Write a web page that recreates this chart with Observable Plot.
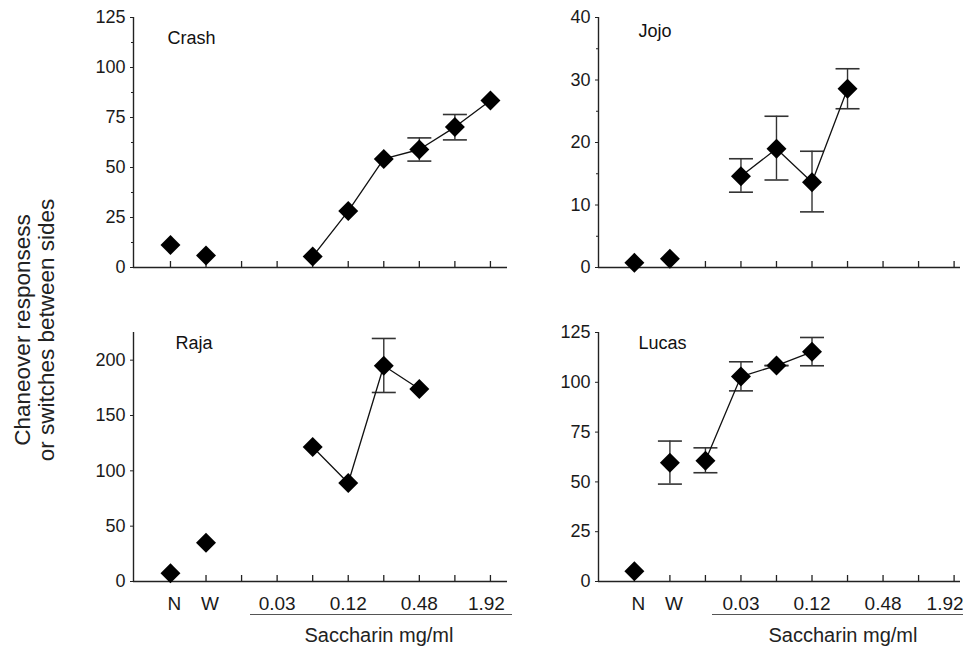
<!DOCTYPE html>
<html><head><meta charset="utf-8">
<script src="https://cdn.jsdelivr.net/npm/d3@7"></script>
<script src="https://cdn.jsdelivr.net/npm/@observablehq/plot@0.6"></script>
<style>
html,body{margin:0;padding:0;background:#fff;overflow:hidden;}
#wrap{position:relative;width:963px;height:648px;font-family:"Liberation Sans",Arial,Helvetica,sans-serif;color:#111;}
.panel{position:absolute;}
.ylab{position:absolute;left:-115px;top:306px;width:300px;height:48px;line-height:24px;font-size:22.5px;text-align:center;transform:rotate(-90deg);transform-origin:50% 50%;color:#222;white-space:nowrap;}
.xlab{position:absolute;top:625px;font-size:20px;line-height:20px;transform:translateX(-50%);white-space:nowrap;color:#222;}
.uline{position:absolute;top:614px;height:0;border-top:1.6px solid #555;}
</style></head><body><div id="wrap"></div>
<script>
// ---- data ----
const xPositions = [0,1,2,3,4,5,6,7,8,9];
const xTickLabels = ["N","W","","0.03","","0.12","","0.48","","1.92"];
const axisTitle = "Saccharin mg/ml";
const yTitle1 = "Chaneover responsess";
const yTitle2 = "or switches between sides";

const crashX = [0,1,4,5,6,7,8,9];
const crashY = [11.3,6,5.5,28.2,54.3,59,70.2,83.5];
const crashErrX = [7,8];
const crashLo = [53.2,63.8];
const crashHi = [64.8,76.5];

const jojoX = [0,1,3,4,5,6];
const jojoY = [0.75,1.4,14.6,19.0,13.65,28.6];
const jojoErrX = [3,4,5,6];
const jojoLo = [12.05,14.0,8.9,25.4];
const jojoHi = [17.4,24.2,18.6,31.8];

const rajaX = [0,1,4,5,6,7];
const rajaY = [7.5,35,121.6,89,194.9,174];
const rajaErrX = [6];
const rajaLo = [170.8];
const rajaHi = [219.6];

const lucasX = [0,1,2,3,4,5];
const lucasY = [5.2,59.6,60.6,102.9,108.4,115.3];
const lucasErrX = [1,2,3,4,5];
const lucasLo = [48.9,54.6,95.7,108.4,108.3];
const lucasHi = [70.5,67.1,110.3,108.4,122.5];

const crashTicks = [0,25,50,75,100,125], crashMinor = [12.5,37.5,62.5,87.5,112.5];
const jojoTicks = [0,10,20,30,40], jojoMinor = [5,15,25,35];
const rajaTicks = [0,50,100,150,200], rajaMinor = [];
const lucasTicks = [0,25,50,75,100,125], lucasMinor = [];

// ---- drawing ----
const FONT = '"Liberation Sans", Arial, Helvetica, sans-serif';
const AX = "#222";
const capSymbol = {draw(ctx){ ctx.moveTo(-12,0); ctx.lineTo(12,0); }};
const diamond = d3.symbolDiamond2 || "diamond";

function labelMark(indices, dx){
  return Plot.text(indices, {x: i => xPositions[i], text: i => xTickLabels[i], frameAnchor: "bottom",
    dy: 22, dx, lineAnchor: "middle", fontSize: 19, fill: "#1a1a1a"});
}

function panel(o){
  const idx = d3.range(o.xs.length);
  const eidx = d3.range(o.errX.length);
  const lineIdx = idx.filter(i => o.xs[i] >= 2);
  const frameH = o.height - o.mt - o.mb;
  const marks = [
    Plot.ruleX([o.xDomain[0]], {stroke: AX, strokeWidth: 1.4}),
    Plot.ruleY([0], {stroke: AX, strokeWidth: 1.4}),
    Plot.tickX(xPositions, {x: d => d, insetTop: frameH - 6, stroke: AX, strokeWidth: 1.3}),
    Plot.axisY({ticks: o.yTicks, tickSize: 3, tickPadding: 5, fontSize: 18, label: null, stroke: AX, color: "#1a1a1a"}),
    Plot.ruleX(eidx, {x: i => o.errX[i], y1: i => o.lo[i], y2: i => o.hi[i], stroke: "#333", strokeWidth: 1.4}),
    Plot.dot(eidx, {x: i => o.errX[i], y: i => o.lo[i], symbol: capSymbol, stroke: "#333", strokeWidth: 1.6, fill: "none", r: 5}),
    Plot.dot(eidx, {x: i => o.errX[i], y: i => o.hi[i], symbol: capSymbol, stroke: "#333", strokeWidth: 1.6, fill: "none", r: 5}),
    Plot.line(lineIdx, {x: i => o.xs[i], y: i => o.ys[i], stroke: "#111", strokeWidth: 1.3}),
    Plot.dot(idx, {x: i => o.xs[i], y: i => o.ys[i], symbol: diamond, r: 9, fill: "#000", stroke: "none"}),
    Plot.text([o.name], {text: d => d, frameAnchor: "top-left", dx: o.ndx, dy: o.ndy, textAnchor: "start", lineAnchor: "middle", fontSize: 18, fill: "#111"})
  ];
  if (o.yMinor.length) marks.push(Plot.axisY({ticks: o.yMinor, tickSize: 2, tickFormat: () => "", label: null, stroke: AX}));
  if (o.xLabels) {
    marks.push(labelMark([0, 1], 4));
    marks.push(labelMark([3, 5, 7], 0));
    marks.push(labelMark([9], o.lastDx));
  }
  const p = Plot.plot({
    width: o.width, height: o.height,
    marginLeft: o.ml, marginRight: o.mr, marginTop: o.mt, marginBottom: o.mb,
    x: {type: "linear", domain: o.xDomain, axis: null},
    y: {type: "linear", domain: [0, o.yMax], axis: null},
    style: {fontFamily: FONT, background: "transparent", overflow: "visible", color: "#111"},
    marks
  });
  p.classList.add("panel");
  p.style.left = o.left + "px";
  p.style.top = o.top + "px";
  return p;
}

const wrap = document.getElementById("wrap");
wrap.appendChild(panel({name: "Crash", xs: crashX, ys: crashY, errX: crashErrX, lo: crashLo, hi: crashHi,
  yMax: 125, yTicks: crashTicks, yMinor: crashMinor, left: 0, top: 0, width: 520, height: 290,
  ml: 133, mr: 13, mt: 17, mb: 23, xDomain: [-1.04, 9.48], xLabels: false, ndx: 34, ndy: 21}));
wrap.appendChild(panel({name: "Jojo", xs: jojoX, ys: jojoY, errX: jojoErrX, lo: jojoLo, hi: jojoHi,
  yMax: 40, yTicks: jojoTicks, yMinor: jojoMinor, left: 520, top: 0, width: 443, height: 290,
  ml: 78, mr: 3, mt: 17, mb: 23, xDomain: [-1.01, 9.18], xLabels: false, ndx: 40, ndy: 14}));
wrap.appendChild(panel({name: "Raja", xs: rajaX, ys: rajaY, errX: rajaErrX, lo: rajaLo, hi: rajaHi,
  yMax: 225, yTicks: rajaTicks, yMinor: rajaMinor, left: 0, top: 300, width: 520, height: 348,
  ml: 133, mr: 13, mt: 32, mb: 67, xDomain: [-1.04, 9.48], xLabels: true, lastDx: -4, ndx: 42, ndy: 11}));
wrap.appendChild(panel({name: "Lucas", xs: lucasX, ys: lucasY, errX: lucasErrX, lo: lucasLo, hi: lucasHi,
  yMax: 125, yTicks: lucasTicks, yMinor: lucasMinor, left: 520, top: 300, width: 443, height: 348,
  ml: 78, mr: 3, mt: 32, mb: 67, xDomain: [-1.01, 9.18], xLabels: true, lastDx: -9, ndx: 40, ndy: 11}));

function addDiv(cls, styleObj, html){
  const d = document.createElement("div");
  d.className = cls;
  Object.assign(d.style, styleObj);
  if (html != null) d.innerHTML = html;
  wrap.appendChild(d);
}
addDiv("ylab", {}, yTitle1 + "<br>" + yTitle2);
addDiv("uline", {left: "250px", width: "262px"});
addDiv("uline", {left: "712px", width: "260px"});
addDiv("xlab", {left: "379px"}, axisTitle);
addDiv("xlab", {left: "843px"}, axisTitle);
</script>
</body></html>
